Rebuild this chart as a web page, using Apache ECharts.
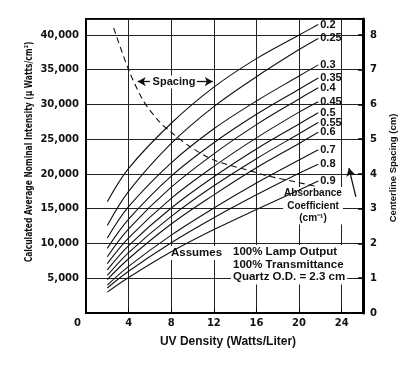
<!DOCTYPE html>
<html><head><meta charset="utf-8">
<script src="https://cdn.jsdelivr.net/npm/echarts@6/dist/echarts.min.js"></script>
<style>html,body{margin:0;padding:0;background:#fff}#c{width:405px;height:375px}</style>
</head><body><div id="c"></div>
<script>
// ---- data ----
const uvDensity = [2, 4, 8, 12, 16, 20, 21.8];
const absorbance = ['0.2','0.25','0.3','0.35','0.4','0.45','0.5','0.55','0.6','0.7','0.8','0.9'];
const c020 = [16000, 20800, 27300, 32500, 36600, 40000, 41500];
const c025 = [12600, 17500, 24400, 29700, 34000, 37900, 39500];
const c030 = [10800, 15300, 21600, 26500, 30500, 34100, 35700];
const c035 = [9300, 13500, 19700, 24500, 28600, 32200, 33800];
const c040 = [8100, 12100, 18100, 22900, 27100, 30800, 32400];
const c045 = [7100, 10800, 16500, 21100, 25200, 28900, 30400];
const c050 = [6200, 9700, 15100, 19600, 23600, 27200, 28800];
const c055 = [5400, 8700, 13900, 18300, 22200, 25800, 27400];
const c060 = [4800, 7800, 12800, 17000, 20900, 24400, 26000];
const c070 = [4000, 6700, 11200, 15100, 18700, 22000, 23500];
const c080 = [3600, 6000, 10100, 13700, 17000, 20100, 21400];
const c090 = [3000, 5100, 8800, 12000, 14900, 17700, 19000];
const curveValues = [c020, c025, c030, c035, c040, c045, c050, c055, c060, c070, c080, c090];
const spacingX  = [2.6, 4, 5.4, 6.9, 8, 9.7, 12, 15.3, 17, 20, 21.5];
const spacingCm = [8.2, 7.0, 6.1, 5.5, 5.2, 4.8, 4.4, 4.1, 3.95, 3.75, 3.65];
const xTicks = [0, 4, 8, 12, 16, 20, 24];
const intensityTicks = [5000, 10000, 15000, 20000, 25000, 30000, 35000, 40000];
const spacingTicks = [0, 1, 2, 3, 4, 5, 6, 7, 8];

// ---- chart ----
const chart = echarts.init(document.getElementById('c'), null, {renderer: 'canvas'});
const ink = '#111';
const numFont = {fontFamily: 'DejaVu Sans', fontWeight: 'bold', fontSize: 10, color: ink};
const txtFont = 'Liberation Sans';

const curveSeries = curveValues.map((vals, k) => ({
  name: absorbance[k],
  type: 'line',
  yAxisIndex: 0,
  symbol: 'none',
  smooth: 0.35,
  lineStyle: {color: ink, width: 1.1},
  endLabel: {show: true, formatter: '{a}', distance: 2, fontFamily: txtFont, fontWeight: 'bold', fontSize: 11, color: ink},
  data: uvDensity.map((x, i) => [x, vals[i]]),
  z: 3
}));

const spacingSeries = {
  name: 'Spacing',
  type: 'line',
  yAxisIndex: 1,
  symbol: 'none',
  smooth: 0.3,
  lineStyle: {color: ink, width: 1.1, type: [6, 4]},
  data: spacingX.map((x, i) => [x, spacingCm[i]]),
  markLine: {
    silent: true,
    symbol: ['none', 'arrow'],
    symbolSize: [7, 8],
    label: {show: false},
    lineStyle: {color: ink, width: 1.3, type: 'solid'},
    data: [
      [{coord: [6.0, 6.66]}, {coord: [4.85, 6.66]}],
      [{coord: [10.4, 6.66]}, {coord: [11.9, 6.66]}],
      [{coord: [25.33, 3.34]}, {coord: [24.68, 4.17]}]
    ]
  },
  z: 3
};

chart.setOption({
  animation: false,
  grid: {left: 86, right: 42, top: 19, bottom: 62, show: true, borderColor: '#000', borderWidth: 2},
  xAxis: {
    type: 'value', min: 0, max: 26, interval: 4,
    axisLine: {show: true, lineStyle: {color: '#000', width: 2}},
    axisTick: {show: true, inside: true, length: 5, lineStyle: {color: '#000'}},
    axisLabel: Object.assign({}, numFont, {
      margin: 5,
      formatter: v => v === 0 ? '{z|0}' : (xTicks.includes(v) ? String(v) : ''),
      rich: {z: Object.assign({}, numFont, {padding: [0, 17, 0, 0]})}
    }),
    splitLine: {show: true, lineStyle: {color: '#222', width: 1}}
  },
  yAxis: [{
    type: 'value', min: 0, max: 42300, interval: 5000, position: 'left',
    axisLine: {show: true, lineStyle: {color: '#000', width: 2}},
    axisTick: {show: false},
    axisLabel: Object.assign({}, numFont, {
      margin: 7,
      formatter: v => intensityTicks.includes(v) ? v.toLocaleString('en-US') : ''
    }),
    splitLine: {show: true, lineStyle: {color: '#222', width: 1}}
  }, {
    type: 'value', min: 0, max: 8.46, interval: 1, position: 'right',
    axisLine: {show: true, lineStyle: {color: '#000', width: 3}},
    axisTick: {show: true, inside: true, length: 5, lineStyle: {color: '#000', width: 1.5}},
    axisLabel: Object.assign({}, numFont, {
      margin: 7,
      formatter: v => spacingTicks.includes(v) ? String(v) : ''
    }),
    splitLine: {show: false}
  }],
  series: curveSeries.concat([spacingSeries]),
  graphic: [
    {type: 'text', x: 29, y: 152, rotation: Math.PI / 2, scaleX: 0.76, z: 5,
     style: {text: 'Calculated Average Nominal Intensity (µ Watts/cm²)', align: 'center', verticalAlign: 'middle',
             fontFamily: '"Liberation Sans Narrow", "DejaVu Sans Condensed", sans-serif', fontWeight: 'bold', fontSize: 11, fill: ink}},
    {type: 'text', x: 393, y: 168, rotation: Math.PI / 2, z: 5,
     style: {text: 'Centerline Spacing (cm)', align: 'center', verticalAlign: 'middle',
             fontFamily: txtFont, fontWeight: 'bold', fontSize: 9.5, fill: ink}},
    {type: 'text', x: 228, y: 342, z: 5,
     style: {text: 'UV Density (Watts/Liter)', align: 'center', verticalAlign: 'middle',
             fontFamily: txtFont, fontWeight: 'bold', fontSize: 12, fill: ink}},
    {type: 'text', x: 174, y: 82, z: 5,
     style: {text: 'Spacing', align: 'center', verticalAlign: 'middle', backgroundColor: '#fff', padding: [1, 2],
             fontFamily: txtFont, fontWeight: 'bold', fontSize: 11, fill: ink}},
    {type: 'text', x: 170, y: 253, z: 1,
     style: {text: 'Assumes', align: 'left', verticalAlign: 'middle', backgroundColor: '#fff', padding: [1, 1],
             fontFamily: txtFont, fontWeight: 'bold', fontSize: 11.5, fill: ink}},
    {type: 'text', x: 231, y: 245, z: 1,
     style: {text: '100% Lamp Output\n100% Transmittance\nQuartz O.D. = 2.3 cm', align: 'left', verticalAlign: 'top',
             lineHeight: 12.5, backgroundColor: '#fff', padding: [1, 2],
             fontFamily: txtFont, fontWeight: 'bold', fontSize: 11.5, fill: ink}},
    {type: 'text', x: 313, y: 187, z: 1,
     style: {text: 'Absorbance\nCoefficient\n(cm⁻¹)', align: 'center', verticalAlign: 'top',
             lineHeight: 12.5, backgroundColor: '#fff', padding: [0, 1],
             fontFamily: txtFont, fontWeight: 'bold', fontSize: 10, fill: ink}}
  ]
});
</script>
</body></html>
